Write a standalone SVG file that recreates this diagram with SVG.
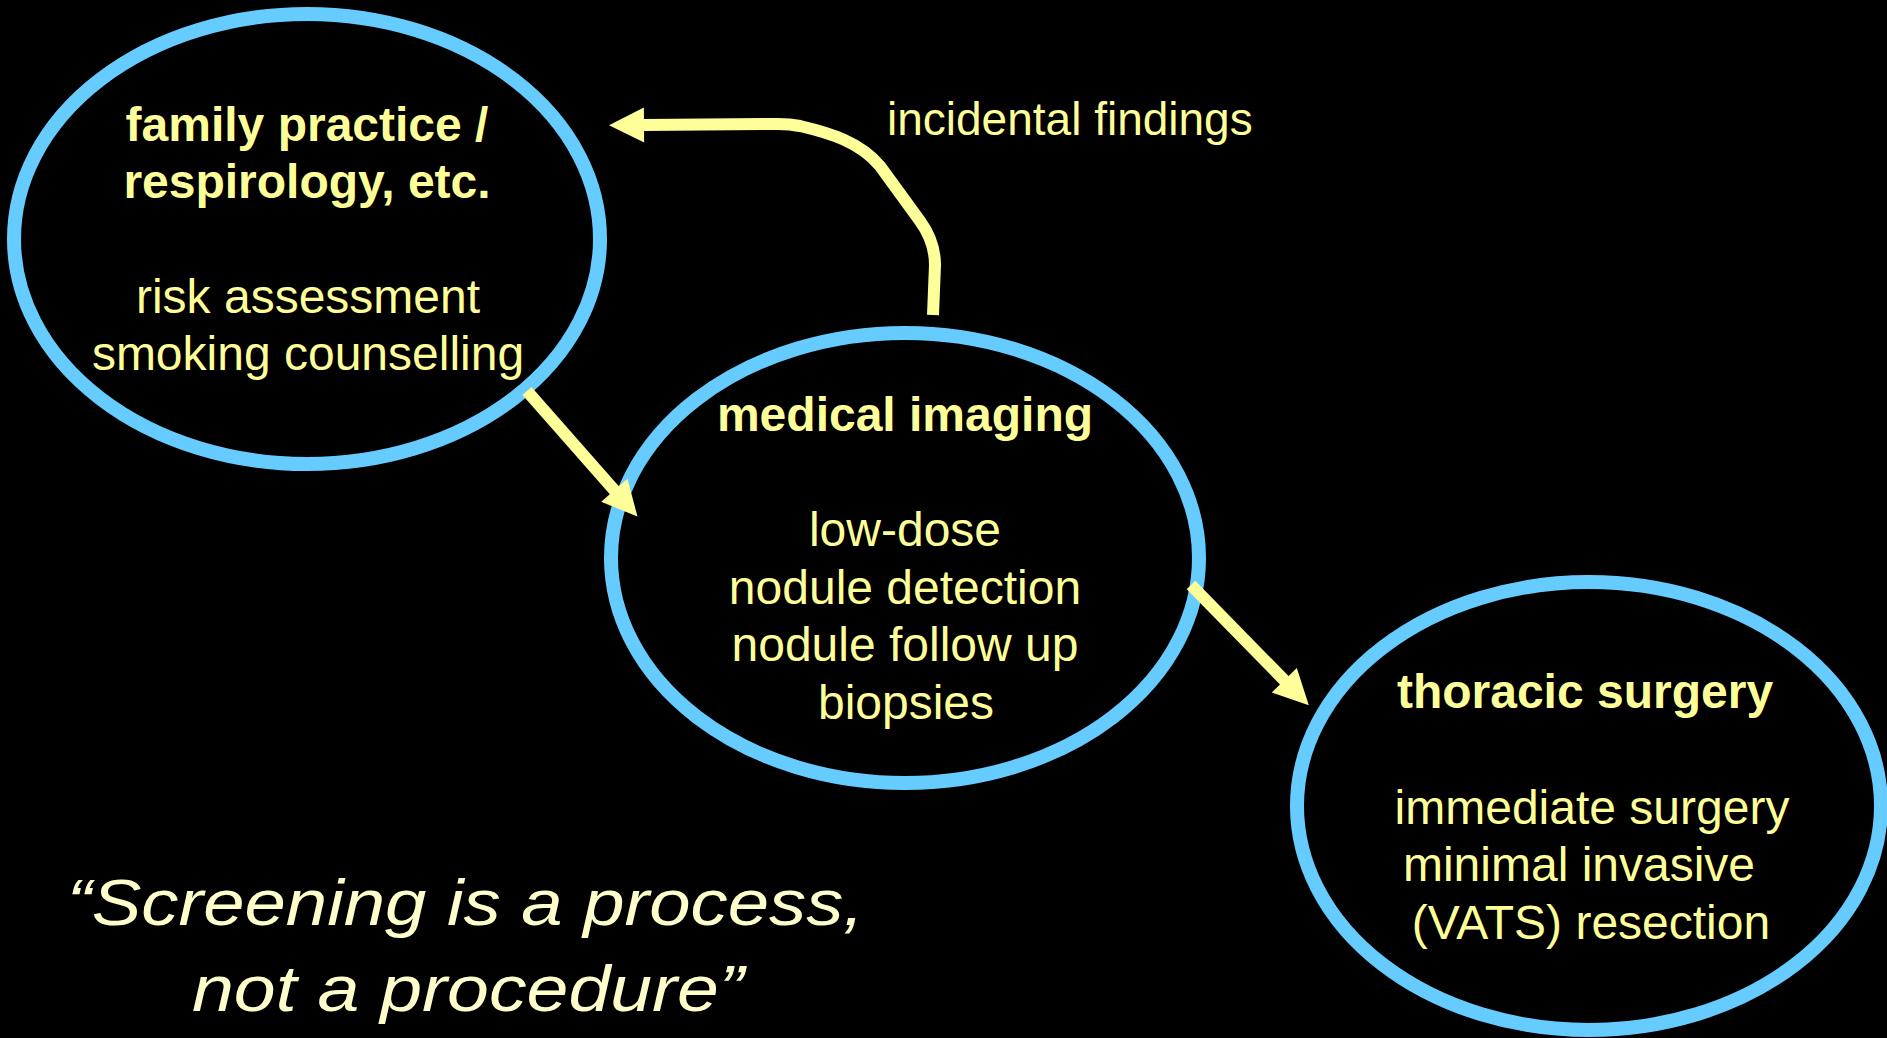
<svg xmlns="http://www.w3.org/2000/svg" width="1887" height="1038" viewBox="0 0 1887 1038">
  <style>
    .node { fill: #000000; stroke: #66CCFF; stroke-width: 14; }
    .txt { font-family: "Liberation Sans", Arial, sans-serif; font-size: 48px; fill: #FFFF99; text-anchor: middle; }
    .title { font-weight: bold; }
    .link { fill: none; stroke: #FFFF99; stroke-width: 12; stroke-linecap: butt; stroke-linejoin: round; }
    .note { font-family: "Liberation Sans", Arial, sans-serif; font-size: 46px; fill: #FFFF99; }
    .quote { font-family: "Liberation Sans", Arial, sans-serif; font-size: 64px; font-style: italic; fill: #FFFFCC; }
  </style>
  <defs>
    <marker id="head" markerUnits="userSpaceOnUse" markerWidth="36" markerHeight="36" viewBox="0 -18 36 36" refX="1" refY="0" orient="auto" overflow="visible">
      <path d="M0,-17.5 L35,0 L0,17.5 Z" fill="#FFFF99"/>
    </marker>
  </defs>

  <rect x="0" y="0" width="1887" height="1038" fill="#000000"/>

  <!-- primary care -->
  <g id="family-practice">
    <ellipse class="node" cx="307" cy="239" rx="293" ry="225"/>
    <text class="txt title" x="307" y="141">family practice /</text>
    <text class="txt title" x="307" y="198">respirology, etc.</text>
    <text class="txt" x="308" y="313">risk assessment</text>
    <text class="txt" x="308" y="370">smoking counselling</text>
  </g>

  <!-- imaging -->
  <g id="medical-imaging">
    <ellipse class="node" cx="905" cy="558" rx="294" ry="225"/>
    <text class="txt title" x="905" y="431">medical imaging</text>
    <text class="txt" x="905" y="546">low-dose</text>
    <text class="txt" x="905" y="604">nodule detection</text>
    <text class="txt" x="905" y="661">nodule follow up</text>
    <text class="txt" x="906" y="719">biopsies</text>
  </g>

  <!-- surgery -->
  <g id="thoracic-surgery">
    <ellipse class="node" cx="1589" cy="806" rx="292" ry="224"/>
    <text class="txt title" x="1585" y="708">thoracic surgery</text>
    <text class="txt" x="1592" y="824">immediate surgery</text>
    <text class="txt" x="1579" y="881">minimal invasive</text>
    <text class="txt" x="1591" y="939">(VATS) resection</text>
  </g>

  <!-- referral flow -->
  <g id="connectors">
    <path class="link" d="M527,391 L615,491" marker-end="url(#head)"/>
    <path class="link" d="M1191,585 L1285,681" marker-end="url(#head)"/>
    <path class="link" d="M933,315 L935,265 C935,245 928,232 920,221 L880,166 C860,142 830,133 800,126 C790,124 785,124 778,124 L643,125" marker-end="url(#head)"/>
  </g>

  <text class="note" x="887" y="135">incidental findings</text>

  <g id="motto">
    <text class="quote" x="67" y="925" textLength="797" lengthAdjust="spacingAndGlyphs">“Screening is a process,</text>
    <text class="quote" x="192" y="1011" textLength="552" lengthAdjust="spacingAndGlyphs">not a procedure”</text>
  </g>
</svg>
